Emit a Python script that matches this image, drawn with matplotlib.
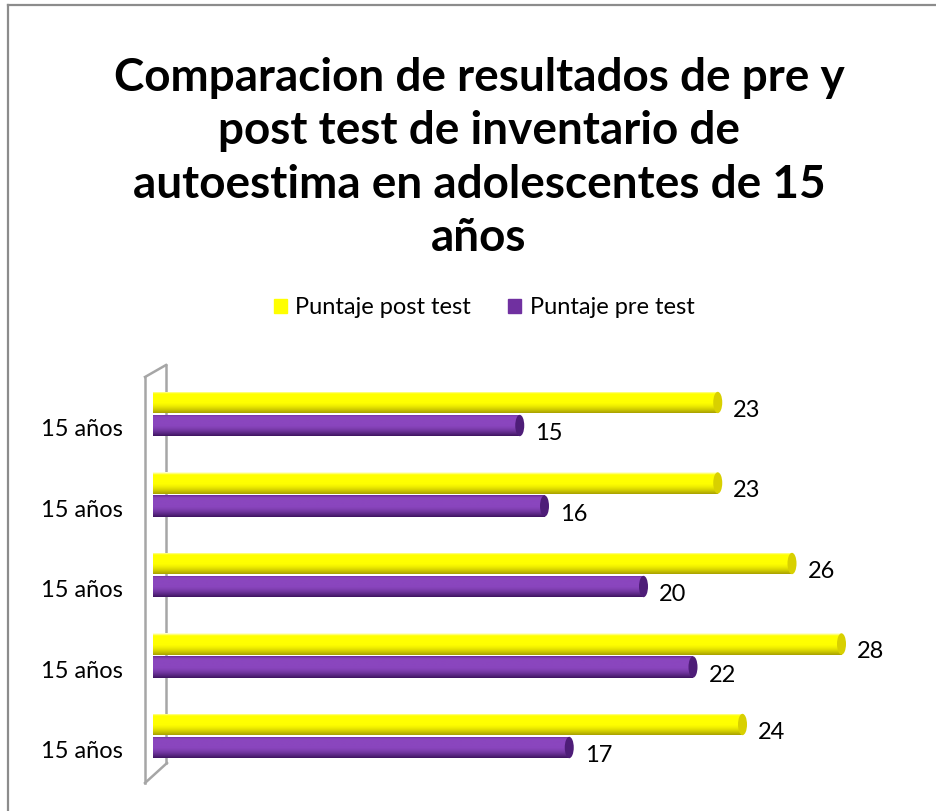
import numpy as np
import matplotlib
matplotlib.use("Agg")
import matplotlib.pyplot as plt
from matplotlib.patches import Ellipse
from matplotlib.lines import Line2D
from matplotlib.colors import to_rgb

plt.rcParams['font.family'] = ['Lato', 'DejaVu Sans']

# ---- data -------------------------------------------------------------
categories = ["15 años", "15 años", "15 años", "15 años", "15 años"]
post_test = [23, 23, 26, 28, 24]
pre_test = [15, 16, 20, 22, 17]
series_names = ["Puntaje post test", "Puntaje pre test"]
title = "Comparacion de resultados de pre y\npost test de inventario de\nautoestima en adolescentes de 15\naños"

W, H = 936, 811
fig = plt.figure(figsize=(W / 100, H / 100), dpi=100)
fig.patch.set_facecolor("white")


def fx(px):
    return px / W


def fy(py):
    return 1 - py / H


# outer chart frame
frame_kw = dict(color="#8c8c8c", lw=1.6, transform=fig.transFigure, zorder=5)
fig.add_artist(Line2D([fx(8), fx(8)], [fy(5), fy(811)], **frame_kw))
fig.add_artist(Line2D([fx(8), fx(936)], [fy(5), fy(5)], **frame_kw))

# 3-D side wall outline
wall_kw = dict(color="#a6a6a6", lw=1.8, transform=fig.transFigure, zorder=-2)
fig.add_artist(Line2D([fx(145), fx(145)], [fy(377), fy(783)], **wall_kw))
fig.add_artist(Line2D([fx(145), fx(166)], [fy(377), fy(365)], **wall_kw))
fig.add_artist(Line2D([fx(145), fx(167)], [fy(783), fy(763)], **wall_kw))
fig.add_artist(Line2D([fx(166), fx(166)], [fy(365), fy(763)], **wall_kw))

# plot area: value 0 at x=153 px, 24.75 px per unit, group spacing 80.5 px
x_max = 30
ax_left, ax_right = 153, 153 + x_max * 24.75
ax_top, ax_bottom = 373.75, 373.75 + 5 * 80.5
ax = fig.add_axes([fx(ax_left), fy(ax_bottom), fx(ax_right - ax_left),
                   (ax_bottom - ax_top) / H])
ax.patch.set_visible(False)
for s in ax.spines.values():
    s.set_visible(False)

n = len(categories)
pos = np.arange(n)
off = 0.143
bh = 0.265

colors = {
    "post": dict(base="#ffff00", top="#fffff0", mid="#ffff00", bot="#a8a000", cap="#d8d000"),
    "pre": dict(base="#7030a0", top="#6a2c98", mid="#8a46be", bot="#3e1460", cap="#4e1d78"),
}


def gradient(c):
    t = np.linspace(0, 1, 64)
    top, mid, bot = (np.array(to_rgb(c[k])) for k in ("top", "mid", "bot"))
    rows = []
    for v in t:
        if v < 0.12:
            col = top + (mid - top) * (v / 0.12)
        elif v < 0.5:
            col = mid
        else:
            col = mid + (bot - mid) * ((v - 0.5) / 0.5) ** 1.6
        rows.append(col)
    return np.array(rows)[:, None, :]


def draw_series(values, yoffs, c):
    bars = ax.barh(pos + yoffs, values, height=bh, color=c["base"], zorder=2)
    img = gradient(c)
    cap_w = 9 / 24.75
    for rect, v in zip(bars, values):
        y0 = rect.get_y()
        y1 = y0 + rect.get_height()
        rect.set_width(v - cap_w / 2)
        im = ax.imshow(img, extent=(0, v - cap_w / 2, y1, y0), origin="upper",
                       aspect="auto", zorder=3, interpolation="bilinear")
        im.set_clip_path(rect)
        ax.add_patch(Ellipse((v - cap_w / 2, (y0 + y1) / 2), cap_w, y1 - y0,
                             facecolor=c["cap"], edgecolor="none", zorder=4))
    return bars


post_bars = draw_series(post_test, -off, colors["post"])
pre_bars = draw_series(pre_test, off, colors["pre"])

# value labels
for vals, yo in ((post_test, -off), (pre_test, off)):
    for i, v in enumerate(vals):
        ax.annotate(f"{v}", (v, pos[i] + yo), xytext=(11, -8),
                    textcoords="offset pixels", ha="left", va="center",
                    fontsize=17, color="black")

ax.set_xlim(0, x_max)
ax.set_ylim(n - 0.5, -0.5)
ax.set_xticks([])
ax.set_yticks(pos + 0.17)
ax.set_yticklabels(categories, fontsize=17)
ax.tick_params(axis="y", length=0, pad=21.5)

# title
fig.text(fx(479), fy(158), title, ha="center", va="center", fontsize=33,
         fontweight="bold", linespacing=1.34)

# legend
handles = [plt.Rectangle((0, 0), 1, 1, color=colors["post"]["base"]),
           plt.Rectangle((0, 0), 1, 1, color=colors["pre"]["base"])]
fig.legend(handles, series_names, loc="center", bbox_to_anchor=(fx(484), fy(308)),
           ncol=2, frameon=False, fontsize=17, handlelength=0.55, handleheight=0.55,
           handletextpad=0.35, columnspacing=1.6)

fig.savefig("out.png", dpi=100)
